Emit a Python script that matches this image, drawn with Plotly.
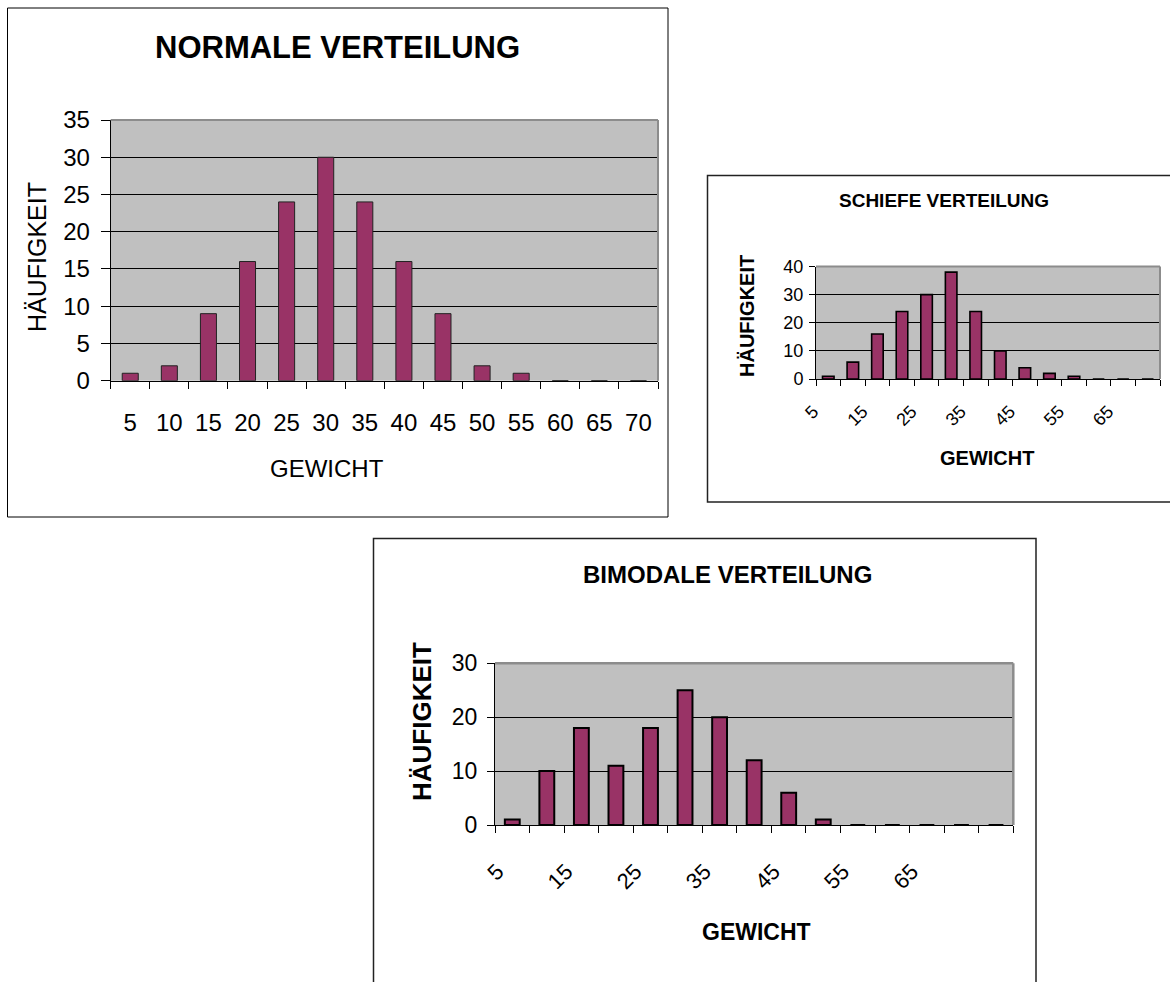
import plotly.graph_objects as go

W, H = 1170, 982

# ---------------- data ----------------
categories_normal = ["5", "10", "15", "20", "25", "30", "35", "40", "45", "50", "55", "60", "65", "70"]
values_normal = [1, 2, 9, 16, 24, 30, 24, 16, 9, 2, 1, 0, 0, 0]
yticks_normal = [0, 5, 10, 15, 20, 25, 30, 35]

categories_skew = ["5", "10", "15", "20", "25", "30", "35", "40", "45", "50", "55", "60", "65", "70"]
values_skew = [1, 6, 16, 24, 30, 38, 24, 10, 4, 2, 1, 0, 0, 0]
yticks_skew = [0, 10, 20, 30, 40]

categories_bimodal = ["5", "10", "15", "20", "25", "30", "35", "40", "45", "50", "55", "60", "65", "70", "75"]
values_bimodal = [1, 10, 18, 11, 18, 25, 20, 12, 6, 1, 0, 0, 0, 0, 0]
yticks_bimodal = [0, 10, 20, 30]

shown_rotated_labels = ["5", "15", "25", "35", "45", "55", "65"]

title_normal = "NORMALE VERTEILUNG"
title_skew = "SCHIEFE VERTEILUNG"
title_bimodal = "BIMODALE VERTEILUNG"
x_title = "GEWICHT"
y_title = "HÄUFIGKEIT"

BAR = "#993366"
BG = "#C0C0C0"
FONT = "Liberation Sans, Arial, sans-serif"


def px(x):
    return x / W


def py(y):
    return 1 - y / H


fig = go.Figure()

fig.add_trace(go.Bar(x=categories_normal, y=values_normal, xaxis="x", yaxis="y",
                     width=0.41, marker=dict(color=BAR, line=dict(color="#222222", width=1))))
fig.add_trace(go.Bar(x=categories_skew, y=values_skew, xaxis="x2", yaxis="y2",
                     width=0.47, marker=dict(color=BAR, line=dict(color="#000000", width=1.6))))
fig.add_trace(go.Bar(x=categories_bimodal, y=values_bimodal, xaxis="x3", yaxis="y3",
                     width=0.43, marker=dict(color=BAR, line=dict(color="#000000", width=2))))


def xaxis(dom, anchor, cats, labels, size, ticklen, standoff, angle=0, shift=0):
    return dict(domain=dom, anchor=anchor, type="category", categoryorder="array",
                categoryarray=cats, range=[-0.5, len(cats) - 0.5],
                tickmode="array", tickvals=cats, ticktext=labels,
                tickson="boundaries", ticks="outside", ticklen=ticklen, tickcolor="black",
                tickwidth=1, showline=True, linecolor="black", linewidth=1,
                showgrid=False, zeroline=False, tickangle=angle, automargin=False,
                ticklabelstandoff=standoff, ticklabelshift=shift,
                tickfont=dict(family=FONT, size=size, color="black"), fixedrange=True)


def yaxis(dom, anchor, rng, ticks, size, ticklen, standoff):
    return dict(domain=dom, anchor=anchor, range=rng, tickmode="array", tickvals=ticks,
                ticks="outside", ticklen=ticklen, tickcolor="black", tickwidth=1,
                showline=True, linecolor="black", linewidth=1, automargin=False,
                showgrid=True, gridcolor="black", gridwidth=1, zeroline=False,
                ticklabelstandoff=standoff,
                tickfont=dict(family=FONT, size=size, color="black"), fixedrange=True)


labels_skew = [c if c in shown_rotated_labels else "" for c in categories_skew]
labels_bimodal = [c if c in shown_rotated_labels else "" for c in categories_bimodal]

fig.update_layout(
    width=W, height=H, autosize=False,
    margin=dict(l=0, r=0, t=0, b=0, pad=0),
    paper_bgcolor="white", plot_bgcolor=BG, showlegend=False,
    font=dict(family=FONT, color="black"),
    xaxis=xaxis([px(110.7), px(658)], "y", categories_normal, categories_normal, 24, 7, 20),
    yaxis=yaxis([py(380.7), py(120)], "x", [0, 35], yticks_normal, 24, 9, 6),
    xaxis2=xaxis([px(816), px(1160)], "y2", categories_skew, labels_skew, 18, 6, 14, -45, -15),
    yaxis2=yaxis([py(379), py(266.5)], "x2", [0, 40], yticks_skew, 18, 6, 2),
    xaxis3=xaxis([px(495), px(1013.3)], "y3", categories_bimodal, labels_bimodal, 22, 7, 24, -45, -15),
    yaxis3=yaxis([py(825), py(663.3)], "x3", [0, 30], yticks_bimodal, 23, 7, 5),
)

shapes = []
# outer chart boxes
shapes.append(dict(type="rect", xref="paper", yref="paper", x0=px(7.5), x1=px(668), y0=py(517), y1=py(8),
                   line=dict(color="black", width=1), fillcolor="rgba(0,0,0,0)", layer="above"))
shapes.append(dict(type="rect", xref="paper", yref="paper", x0=px(707.5), x1=px(1185), y0=py(502), y1=py(175.5),
                   line=dict(color="#222222", width=1.5), fillcolor="rgba(0,0,0,0)", layer="above"))
shapes.append(dict(type="rect", xref="paper", yref="paper", x0=px(373.5), x1=px(1036), y0=py(1000), y1=py(538.5),
                   line=dict(color="#222222", width=1.5), fillcolor="rgba(0,0,0,0)", layer="above"))
# top / right plot-area borders (grey)
for xa, ya, w in (("x", "y", 2), ("x2", "y2", 2), ("x3", "y3", 2.5)):
    shapes.append(dict(type="line", xref=xa + " domain", yref=ya + " domain", x0=0, x1=1, y0=1, y1=1,
                       line=dict(color="#8C8C8C", width=w), layer="above"))
    shapes.append(dict(type="line", xref=xa + " domain", yref=ya + " domain", x0=1, x1=1, y0=0, y1=1,
                       line=dict(color="#8C8C8C", width=w), layer="above"))
fig.update_layout(shapes=shapes)


def ann(text, x, y, size, bold=False, angle=0):
    t = "<b>%s</b>" % text if bold else text
    return dict(text=t, x=px(x), y=py(y), xref="paper", yref="paper", showarrow=False,
                xanchor="center", yanchor="middle", textangle=angle,
                font=dict(family=FONT, size=size, color="black"))


fig.update_layout(annotations=[
    ann(title_normal, 337, 47, 31, bold=True),
    ann(y_title, 37, 257, 25, angle=-90),
    ann(x_title, 327, 468, 24),
    ann(title_skew, 944, 200, 19, bold=True),
    ann(y_title, 747, 316, 20, bold=True, angle=-90),
    ann(x_title, 987, 458, 20, bold=True),
    ann(title_bimodal, 727, 574, 24, bold=True),
    ann(y_title, 422, 722, 26, bold=True, angle=-90),
    ann(x_title, 756, 932, 23, bold=True),
])

fig.write_html("out.html",
               config={"displayModeBar": False},
               post_script="document.body.style.margin='0';document.body.style.padding='0';")
